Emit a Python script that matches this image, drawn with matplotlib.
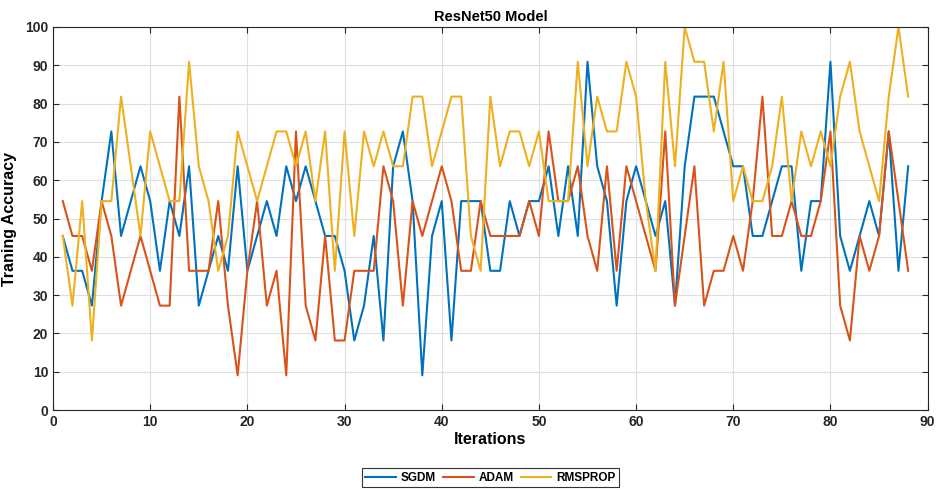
import numpy as np
import matplotlib.pyplot as plt

plt.rcParams['font.family'] = ['Liberation Sans', 'DejaVu Sans']

iterations = np.arange(1, 89)

sgdm = [45.45, 36.36, 36.36, 27.27, 54.55, 72.73, 45.45, 54.55, 63.64, 54.55,
        36.36, 54.55, 45.45, 63.64, 27.27, 36.36, 45.45, 36.36, 63.64, 36.36,
        45.45, 54.55, 45.45, 63.64, 54.55, 63.64, 54.55, 45.45, 45.45, 36.36,
        18.18, 27.27, 45.45, 18.18, 63.64, 72.73, 54.55, 9.09, 45.45, 54.55,
        18.18, 54.55, 54.55, 54.55, 36.36, 36.36, 54.55, 45.45, 54.55, 54.55,
        63.64, 45.45, 63.64, 45.45, 90.91, 63.64, 54.55, 27.27, 54.55, 63.64,
        54.55, 45.45, 54.55, 27.27, 63.64, 81.82, 81.82, 81.82, 72.73, 63.64,
        63.64, 45.45, 45.45, 54.55, 63.64, 63.64, 36.36, 54.55, 54.55, 90.91,
        45.45, 36.36, 45.45, 54.55, 45.45, 72.73, 36.36, 63.64]

adam = [54.55, 45.45, 45.45, 36.36, 54.55, 45.45, 27.27, 36.36, 45.45, 36.36,
        27.27, 27.27, 81.82, 36.36, 36.36, 36.36, 54.55, 27.27, 9.09, 36.36,
        54.55, 27.27, 36.36, 9.09, 72.73, 27.27, 18.18, 45.45, 18.18, 18.18,
        36.36, 36.36, 36.36, 63.64, 54.55, 27.27, 54.55, 45.45, 54.55, 63.64,
        54.55, 36.36, 36.36, 54.55, 45.45, 45.45, 45.45, 45.45, 54.55, 45.45,
        72.73, 54.55, 54.55, 63.64, 45.45, 36.36, 63.64, 36.36, 63.64, 54.55,
        45.45, 36.36, 72.73, 27.27, 45.45, 63.64, 27.27, 36.36, 36.36, 45.45,
        36.36, 54.55, 81.82, 45.45, 45.45, 54.55, 45.45, 45.45, 54.55, 72.73,
        27.27, 18.18, 45.45, 36.36, 45.45, 72.73, 54.55, 36.36]

rmsprop = [45.45, 27.27, 54.55, 18.18, 54.55, 54.55, 81.82, 63.64, 45.45, 72.73,
           63.64, 54.55, 54.55, 90.91, 63.64, 54.55, 36.36, 45.45, 72.73, 63.64,
           54.55, 63.64, 72.73, 72.73, 63.64, 72.73, 54.55, 72.73, 36.36, 72.73,
           45.45, 72.73, 63.64, 72.73, 63.64, 63.64, 81.82, 81.82, 63.64, 72.73,
           81.82, 81.82, 45.45, 36.36, 81.82, 63.64, 72.73, 72.73, 63.64, 72.73,
           54.55, 54.55, 54.55, 90.91, 63.64, 81.82, 72.73, 72.73, 90.91, 81.82,
           54.55, 36.36, 90.91, 63.64, 100.0, 90.91, 90.91, 72.73, 90.91, 54.55,
           63.64, 54.55, 54.55, 63.64, 81.82, 54.55, 72.73, 63.64, 72.73, 63.64,
           81.82, 90.91, 72.73, 63.64, 54.55, 81.82, 100.0, 81.82]

fig = plt.figure(figsize=(9.37, 4.90), dpi=100)
ax = fig.add_axes([0.0566, 0.163, 0.9334, 0.782])

ax.plot(iterations, sgdm, color='#0072BD', lw=1.5, label='SGDM')
ax.plot(iterations, adam, color='#D95319', lw=1.5, label='ADAM')
ax.plot(iterations, rmsprop, color='#EDB120', lw=1.5, label='RMSPROP')

ax.set_xlim(0, 90)
ax.set_ylim(0, 100)
ax.set_xticks(np.arange(0, 91, 10))
ax.set_yticks(np.arange(0, 101, 10))
ax.grid(True, color='#dfdfdf', lw=0.8)
ax.set_axisbelow(True)

for s in ax.spines.values():
    s.set_color('#262626')
    s.set_linewidth(0.8)
ax.tick_params(direction='in', length=4, width=0.8, colors='#262626',
               labelsize=10, top=True, right=True)
for lbl in ax.get_xticklabels() + ax.get_yticklabels():
    lbl.set_fontweight('bold')

ax.set_title('ResNet50 Model', fontsize=10.5, fontweight='bold', pad=4)
ax.set_xlabel('Iterations', fontsize=11.5, fontweight='bold', labelpad=2)
ax.set_ylabel('Traning Accuracy', fontsize=11.5, fontweight='bold', labelpad=6)

# horizontal legend under the axes, centred on the plot area
leg = ax.legend(loc='center', bbox_to_anchor=(0.5, 0.025),
                bbox_transform=fig.transFigure, ncol=3,
                fancybox=False, edgecolor='black',
                handlelength=2.6, columnspacing=0.6, handletextpad=0.4,
                borderpad=0.3, prop={'weight': 'bold', 'size': 8.5})
leg.set_bbox_to_anchor((0.5 * (0.0566 * 2 + 0.9334), 0.025), transform=fig.transFigure)
leg.get_frame().set_linewidth(0.8)

fig.savefig('out.png', dpi=100)
